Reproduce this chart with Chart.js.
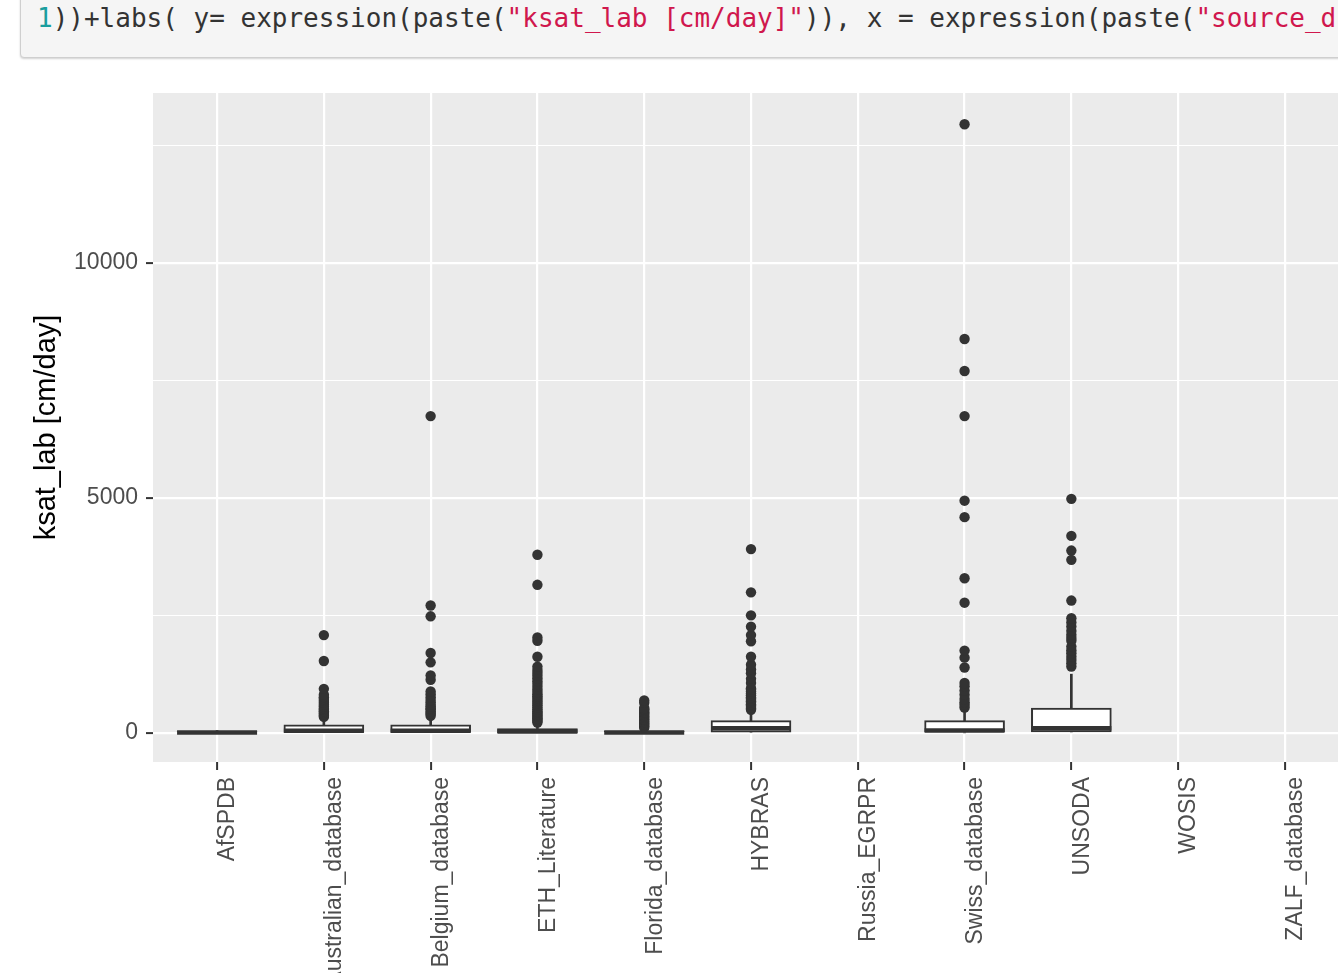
<!DOCTYPE html>
<html>
<head>
<meta charset="utf-8">
<script src="https://cdn.jsdelivr.net/npm/chart.js@4.4.1/dist/chart.umd.min.js"></script>
<style>
  html, body { margin: 0; padding: 0; width: 1338px; height: 973px; overflow: hidden; background: #fff; }
  #cell { position: absolute; left: 20px; top: -12px; width: 1400px; height: 68px; background: #f5f5f5;
          border: 1px solid #cfcfcf; border-radius: 4px; box-shadow: 0 1px 2px rgba(0,0,0,0.18); }
  #code { position: absolute; left: 37px; top: 0; margin: 0; font: 26px/36px "DejaVu Sans Mono", monospace;
          color: #333; white-space: pre; }
  .num { color: #1a9e9e; }
  .str { color: #d0174d; }
  #plot { position: absolute; left: 0; top: 0; width: 1349px; height: 1010px; }
</style>
</head>
<body>
<div id="cell"></div>
<pre id="code"><span class="num">1</span>))+labs( y= expression(paste(<span class="str">"ksat_lab [cm/day]"</span>)), x = expression(paste(<span class="str">"source_db"</span>)))</pre>
<div id="plot"><canvas id="c"></canvas></div>
<script>
// Sources of the saturated conductivity measurements
const categories = ["AfSPDB", "Australian_database", "Belgium_database", "ETH_Literature",
  "Florida_database", "HYBRAS", "Russia_EGRPR", "Swiss_database", "UNSODA", "WOSIS", "ZALF_database"];

// Box statistics per source (cm/day); null = no measurements
const q1          = [0,  10,  10,  5,   0,  15, null, 0,   20,   null, null];
const medians     = [8,  45,  45,  30,  10, 100, null, 50,  100,  null, null];
const q3          = [25, 170, 170, 90,  40, 260, null, 260, 525,  null, null];
const whiskerLow  = [0,  0,   0,   0,   0,  0,   null, 0,   0,    null, null];
const whiskerHigh = [50, 320, 330, 210, 95, 460, null, 490, 1250, null, null];

// Outlying measurements per source
const outAfSPDB = [];
const outAustralian = [340, 370, 400, 430, 460, 490, 520, 560, 600, 640, 680, 720, 760, 810, 936, 1530, 2080];
const outBelgium = [360, 400, 420, 460, 500, 525, 560, 600, 650, 700, 760, 820, 880, 1130, 1220, 1500, 1700, 2480, 2710, 6740];
const outETH = [220, 250, 280, 310, 340, 370, 400, 430, 460, 500, 540, 580, 620, 660, 700, 740, 780, 820, 870, 920,
  980, 1040, 1100, 1160, 1220, 1280, 1340, 1410, 1620, 1960, 2030, 3150, 3790];
const outFlorida = [110, 140, 170, 200, 230, 260, 290, 320, 350, 380, 410, 440, 470, 500, 530, 640, 690];
const outHYBRAS = [490, 520, 550, 580, 610, 640, 670, 700, 730, 760, 800, 840, 880, 920, 950, 1060, 1150, 1270, 1350,
  1450, 1620, 1950, 2080, 2260, 2500, 2990, 3910];
const outRussia = [];
const outSwiss = [540, 600, 650, 720, 810, 900, 990, 1060, 1390, 1600, 1750, 2770, 3290, 4590, 4940, 6740, 7700, 8380, 12950];
const outUNSODA = [1410, 1480, 1550, 1620, 1695, 1760, 1836, 1960, 2020, 2085, 2170, 2262, 2350, 2440, 2815, 3681, 3879, 4191, 4979];
const outWOSIS = [];
const outZALF = [];
const outliers = [outAfSPDB, outAustralian, outBelgium, outETH, outFlorida, outHYBRAS,
  outRussia, outSwiss, outUNSODA, outWOSIS, outZALF];

// Axis ticks
const yTicks = [0, 2500, 5000, 7500, 10000, 12500];
const yLabelTicks = [0, 5000, 10000];

const present = categories.map((_, i) => i).filter(i => q1[i] !== null);
const axisFont = { family: '"Liberation Sans", Arial, sans-serif', size: 23 };
const ink = '#333333';

const panelBackground = {
  id: 'panelBackground',
  beforeDraw(chart) {
    const { ctx, chartArea: a } = chart;
    ctx.save();
    ctx.fillStyle = '#ebebeb';
    ctx.fillRect(a.left, a.top, a.right - a.left, a.bottom - a.top);
    ctx.restore();
  }
};

new Chart(document.getElementById('c'), {
  type: 'bar',
  data: {
    datasets: [
      {
        label: 'box',
        order: 3,
        grouped: false,
        data: present.map(i => ({ x: i, y: [q1[i], q3[i]] })),
        backgroundColor: '#ffffff',
        borderColor: ink,
        borderWidth: 2,
        borderSkipped: false,
        barThickness: 80
      },
      {
        label: 'upper whisker',
        order: 2,
        grouped: false,
        data: present.map(i => ({ x: i, y: [q3[i], whiskerHigh[i]] })),
        backgroundColor: ink,
        borderWidth: 0,
        barThickness: 2
      },
      {
        label: 'lower whisker',
        order: 2,
        grouped: false,
        data: present.map(i => ({ x: i, y: [whiskerLow[i], q1[i]] })),
        backgroundColor: ink,
        borderWidth: 0,
        barThickness: 2
      },
      {
        type: 'scatter',
        label: 'median',
        order: 1,
        data: present.map(i => ({ x: i, y: medians[i] })),
        pointStyle: 'line',
        pointRadius: 40,
        pointBorderWidth: 4.5,
        pointBorderColor: ink,
        pointBackgroundColor: ink
      },
      {
        type: 'scatter',
        label: 'outliers',
        order: 0,
        data: outliers.flatMap((vals, i) => vals.map(v => ({ x: i, y: v }))),
        pointRadius: 5.2,
        pointBorderWidth: 0,
        pointBackgroundColor: ink
      }
    ]
  },
  options: {
    responsive: true,
    maintainAspectRatio: false,
    animation: false,
    events: [],
    layout: { autoPadding: false, padding: { top: 93, left: 0, right: 0, bottom: 0 } },
    plugins: { legend: { display: false }, tooltip: { enabled: false } },
    scales: {
      x: {
        type: 'linear',
        min: -0.6,
        max: 10.6,
        offset: false,
        afterBuildTicks: s => { s.ticks = categories.map((_, i) => ({ value: i })); },
        afterFit: s => { s.height = 248; s.paddingLeft = 0; s.paddingRight = 0; },
        grid: { offset: false, color: '#ffffff', lineWidth: 2.2, tickLength: 8, tickColor: ink, tickWidth: 2 },
        border: { display: false },
        ticks: {
          autoSkip: false, minRotation: 90, maxRotation: 90, labelOffset: 11, padding: 7,
          color: '#4d4d4d', font: axisFont,
          callback: v => categories[v] ?? ''
        }
      },
      y: {
        type: 'linear',
        min: -620,
        max: 13615,
        afterBuildTicks: s => { s.ticks = yTicks.map(v => ({ value: v })); },
        afterFit: s => { s.width = 153; },
        grid: {
          color: '#ffffff',
          lineWidth: c => yLabelTicks.includes(c.tick.value) ? 2.2 : 1.1,
          tickLength: 7,
          tickWidth: 2,
          tickColor: c => yLabelTicks.includes(c.tick.value) ? ink : 'rgba(0,0,0,0)'
        },
        border: { display: false },
        ticks: {
          padding: 8, color: '#4d4d4d', font: axisFont,
          callback: v => yLabelTicks.includes(v) ? String(v) : ''
        },
        title: {
          display: true, text: 'ksat_lab [cm/day]', color: '#000000',
          font: { family: '"Liberation Sans", Arial, sans-serif', size: 29 },
          padding: { top: 30, bottom: 0 }
        }
      }
    }
  },
  plugins: [panelBackground]
});
</script>
</body>
</html>
